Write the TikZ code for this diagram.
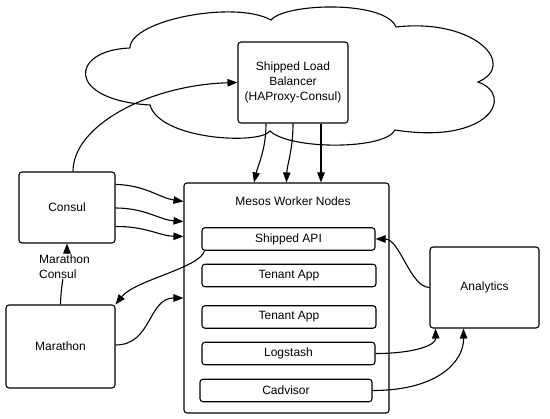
\documentclass[tikz,border=0pt]{standalone}
\usepackage{fontspec}
\setmainfont{Liberation Sans}
\usepackage{tikz}
\usetikzlibrary{arrows.meta}
\usetikzlibrary{calc}
\usetikzlibrary{positioning}
\newcommand{\cloudshape}{\draw (130,48) .. controls (130,20) and (235,0) .. (271,20)
					.. controls (285,3) and (385,0) .. (396,27)
					.. controls (475,18) and (518,65) .. (478,82)
					.. controls (515,95) and (490,145) .. (395,130)
					.. controls (385,150) and (290,150) .. (270,131)
					.. controls (260,145) and (160,140) .. (150,105)
					.. controls (65,100) and (70,50) .. (130,48);}
\tikzset{box/.style={draw, rounded corners=3pt, fill=white, align=center, inner sep=0pt},
	slot/.style={box, minimum height=22.5pt},
	arr/.style={-{Triangle[length=10pt,width=7.5pt]}}}

\begin{document}
\begin{tikzpicture}[x=1pt, y=-1pt, line width=1.1pt, font=\fontsize{12}{15}\selectfont]

					\useasboundingbox[fill=white] (0,0) rectangle (550,419);

					\cloudshape

					\node[box, minimum width=110pt, minimum height=81pt] (lb) at (293,82.5) {Shipped Load\\Balancer\\(HAProxy-Consul)};

					\node[box, minimum width=96pt, minimum height=71pt] (consul) at (67,207.5) {Consul};
					\node[box, minimum width=109pt, minimum height=83pt] (marathon) at (60.5,346.5) {Marathon};
					\node[box, minimum width=109pt, minimum height=81pt] (analytics) at (484.5,287.5) {Analytics};

					\node[box, minimum width=205pt, minimum height=230pt] (mesos) at (286.5,298) {};
					\node (mtitle) at (293,201) {Mesos Worker Nodes};
					\node[slot, minimum width=173pt] (api) at (288.5,239) {Shipped API};
					\node[slot, minimum width=174pt] (tenant1) at (289,275.5) {Tenant App};
					\node[slot, minimum width=174pt] (tenant2) at (289,317) {Tenant App};
					\node[slot, minimum width=173pt] (logstash) at (288.5,353.5) {Logstash};
					\node[slot, minimum width=172pt] (cadvisor) at (286,390.5) {Cadvisor};

					% consul up to the balancer
					\draw[arr] ($(consul.north)+(6,0)$) .. controls (73,125) and (150,85) .. (lb.west);

					% balancer down to the workers
					\draw[arr] ($(lb.south)+(-27,0)$) .. controls (266,150) and (258,165) .. ($(mesos.north)+(-32.5,0)$);
					\draw[arr] (lb.south) .. controls (293,150) and (287,165) .. (mesos.north);
					\draw[arr] ($(lb.south)+(28,0)$) -- ($(mesos.north)+(34.5,0)$);

					% consul over to the workers
					\draw[arr] ($(consul.north east)+(0,13)$) .. controls (145,185) and (160,198) .. ($(mesos.north west)+(0,19)$);
					\draw[arr] ($(consul.east)+(0,0.5)$) .. controls (145,208) and (160,220) .. ($(mesos.north west)+(0,39)$);
					\draw[arr] ($(consul.south east)+(0,-17)$) .. controls (145,226) and (160,236) .. ($(mesos.north west)+(0,54)$);

					% marathon
					\draw[arr] ($(api.south west)+(3,0)$) .. controls (200,268) and (135,280) .. (marathon.north east);
					\draw[arr] ($(marathon.east)+(0,-1.5)$) .. controls (152,345) and (148,298) .. (mesos.west);
					\draw[arr] (marathon.north) .. controls (61,280) and (67,262) .. (consul.south);
					\node[fill=white, align=left, inner sep=1pt] (mclabel) at (64.5,266.5) {Marathon\\Consul};

					% analytics
					\draw[arr] (analytics.west) .. controls (410,287) and (400,239) .. (api.east);
					\draw[arr] (logstash.east) .. controls (415,353.5) and (436,345) .. ($(analytics.south west)+(6,0)$);
					\draw[arr] (cadvisor.east) .. controls (440,390.5) and (464,360) .. ($(analytics.south west)+(34,0)$);

\end{tikzpicture}
\end{document}
